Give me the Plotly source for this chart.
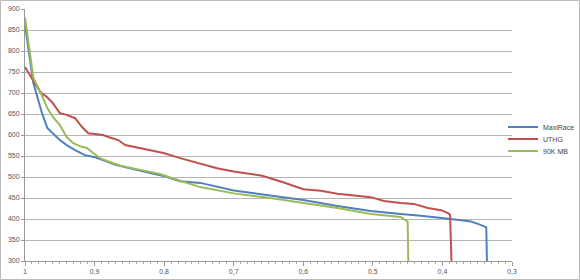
import plotly.graph_objects as go

# MaxiRace
maxi_x = [1.0, 0.988, 0.9755, 0.968, 0.950, 0.940, 0.928, 0.914, 0.899, 0.885, 0.870, 0.849,
          0.820, 0.798, 0.777, 0.748, 0.700, 0.647, 0.600, 0.551, 0.503, 0.460, 0.431, 0.388,
          0.359, 0.345, 0.337, 0.336]
maxi_y = [862, 724, 652, 617, 588, 576, 564, 552, 547, 538, 529, 521,
          510, 501, 490, 486, 468, 455, 445, 431, 419, 412, 408, 400,
          394, 386, 380, 300]

# UTHG
uthg_x = [1.0, 0.988, 0.978, 0.968, 0.960, 0.950, 0.940, 0.928, 0.918, 0.909, 0.899, 0.888,
          0.878, 0.866, 0.856, 0.835, 0.820, 0.801, 0.777, 0.748, 0.724, 0.700, 0.659, 0.628,
          0.600, 0.575, 0.551, 0.503, 0.484, 0.460, 0.441, 0.421, 0.402, 0.392, 0.389, 0.387]
uthg_y = [762, 729, 702, 690, 676, 652, 648, 640, 619, 604, 602, 600,
          594, 588, 576, 569, 563, 557, 545, 532, 521, 513, 503, 487,
          471, 467, 460, 452, 443, 438, 436, 426, 421, 414, 410, 300]

# 90K MB
mb_x = [1.0, 0.988, 0.978, 0.968, 0.960, 0.950, 0.940, 0.931, 0.921, 0.911, 0.902, 0.892,
        0.882, 0.863, 0.834, 0.806, 0.777, 0.748, 0.700, 0.647, 0.600, 0.551, 0.503, 0.460,
        0.450, 0.449]
mb_y = [880, 736, 703, 664, 643, 624, 595, 581, 573, 569, 557, 545,
        538, 527, 517, 507, 491, 476, 461, 450, 438, 426, 412, 405,
        394, 300]

x_tickvals = [1.0, 0.9, 0.8, 0.7, 0.6, 0.5, 0.4, 0.3]
x_ticktext = ["1", "0,9", "0,8", "0,7", "0,6", "0,5", "0,4", "0,3"]
y_tickvals = [300, 350, 400, 450, 500, 550, 600, 650, 700, 750, 800, 850, 900]

W, H = 580, 280
L, R, T, B = 25, 68, 9, 19
pw = W - L - R
ph = H - T - B

fig = go.Figure()
fig.add_trace(go.Scatter(x=maxi_x, y=maxi_y, mode="lines", name="MaxiRace", legend="legend",
                         line=dict(color="#4F81BD", width=2)))
fig.add_trace(go.Scatter(x=uthg_x, y=uthg_y, mode="lines", name="UTHG", legend="legend2",
                         line=dict(color="#C0504D", width=2)))
fig.add_trace(go.Scatter(x=mb_x, y=mb_y, mode="lines", name="90K MB", legend="legend3",
                         line=dict(color="#9BBB59", width=2)))

def leg(ypx):
    return dict(x=(503 - L) / pw, xanchor="left", y=(H - B - ypx) / ph, yanchor="middle",
                font=dict(size=7, color="#444444"), itemwidth=30,
                bgcolor="rgba(0,0,0,0)", borderwidth=0)

fig.update_layout(
    width=W, height=H,
    margin=dict(l=L, r=R, t=T, b=B, autoexpand=False),
    paper_bgcolor="white", plot_bgcolor="white",
    font=dict(family="Liberation Sans, Arial, sans-serif", size=7, color="#555555"),
    showlegend=True,
    legend=leg(127), legend2=leg(139), legend3=leg(151),
    xaxis=dict(range=[1.0, 0.3], tickvals=x_tickvals, ticktext=x_ticktext,
               showgrid=False, zeroline=False, showline=True, linecolor="#999999",
               ticks="outside", ticklen=4, tickcolor="#999999", automargin=False,
               minor=dict(dtick=0.01, ticks="outside", ticklen=2, tickcolor="#aaaaaa", showgrid=False)),
    yaxis=dict(range=[300, 900], tickvals=y_tickvals, automargin=False,
               showgrid=True, gridcolor="#b5b5b5", gridwidth=1, zeroline=False,
               showline=True, linecolor="#999999", ticks="outside", ticklen=3,
               tickcolor="#999999"),
)

# outer chart border
fig.add_shape(type="rect", xref="paper", yref="paper",
              x0=-(L - 0.5) / pw, x1=(W - L - 0.5) / pw,
              y0=-(B - 0.5) / ph, y1=(H - B - 0.5) / ph,
              line=dict(color="#bbbbbb", width=1), layer="below")

fig.write_html("out.html")
